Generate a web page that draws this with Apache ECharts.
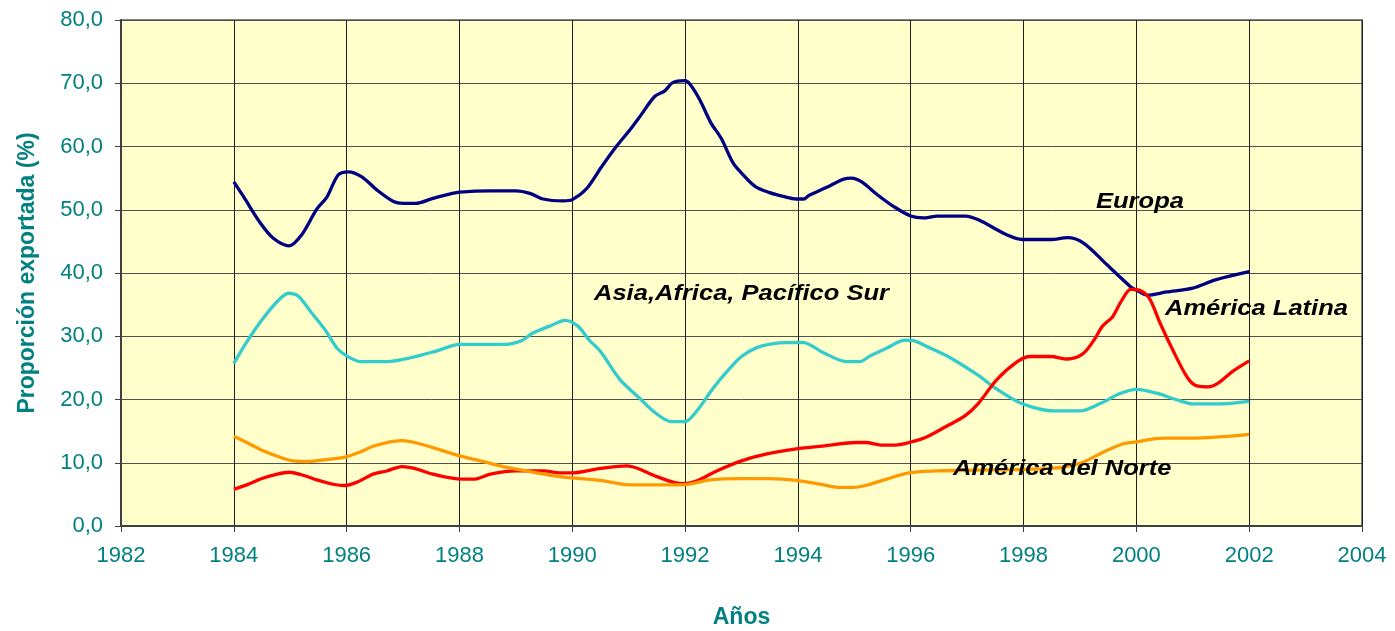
<!DOCTYPE html>
<html>
<head>
<meta charset="utf-8">
<script src="https://cdn.jsdelivr.net/npm/echarts@6/dist/echarts.min.js"></script>
<style>
  html, body { margin: 0; padding: 0; background: #fff; }
  #chart { width: 1395px; height: 631px; }
</style>
</head>
<body>
<div id="chart"></div>
<script>
// datos: [año, proporción exportada %]
var europa = [
  [1984, 54.4], [1984.17, 52.1], [1984.47, 47.9], [1984.7, 45.5], [1984.98, 44.3], [1985.2, 46.0],
  [1985.47, 50.1], [1985.65, 52.0], [1985.85, 55.5], [1986.03, 56.0], [1986.27, 55.2], [1986.54, 53.1],
  [1986.83, 51.3], [1987.0, 51.0], [1987.22, 51.0], [1987.53, 51.8], [1987.84, 52.5], [1988.0, 52.8],
  [1988.55, 53.0], [1989.0, 53.0], [1989.25, 52.6], [1989.48, 51.7], [1989.84, 51.4], [1990.0, 51.6],
  [1990.26, 53.4], [1990.52, 56.8], [1990.78, 60.0], [1991.02, 62.6], [1991.22, 65.0], [1991.46, 67.9],
  [1991.64, 68.8], [1991.78, 70.1], [1992.0, 70.4], [1992.1, 69.7], [1992.26, 67.4], [1992.46, 63.7],
  [1992.64, 61.3], [1992.85, 57.4], [1993.0, 55.8], [1993.24, 53.7], [1993.5, 52.7], [1993.74, 52.1],
  [1993.97, 51.7], [1994.1, 51.7], [1994.2, 52.3], [1994.5, 53.5], [1994.8, 54.8], [1994.95, 55.0],
  [1995.13, 54.4], [1995.42, 52.3], [1995.7, 50.5], [1996.0, 49.0], [1996.22, 48.7], [1996.47, 49.0],
  [1996.97, 49.0], [1997.2, 48.4], [1997.71, 46.0], [1997.98, 45.3], [1998.48, 45.3], [1998.78, 45.6],
  [1999.07, 44.7], [1999.48, 41.3], [1999.9, 37.8], [2000.0, 37.3], [2000.2, 36.5], [2000.53, 37.0],
  [2001.0, 37.6], [2001.4, 38.9], [2002.0, 40.2]
];
var asiaAfrica = [
  [1984, 25.7], [1984.23, 29.1], [1984.5, 32.6], [1984.77, 35.5], [1984.97, 36.8], [1985.15, 36.3],
  [1985.36, 33.9], [1985.62, 31.0], [1985.83, 28.1], [1986.0, 26.9], [1986.24, 26.0], [1986.71, 26.0],
  [1987.18, 26.7], [1987.6, 27.7], [1988.0, 28.7], [1988.77, 28.7], [1989.1, 29.3], [1989.3, 30.5],
  [1989.6, 31.6], [1989.87, 32.5], [1990.1, 31.6], [1990.3, 29.4], [1990.5, 27.6], [1990.85, 23.1],
  [1991.17, 20.4], [1991.47, 17.9], [1991.76, 16.5], [1992.0, 16.5], [1992.2, 18.1], [1992.5, 21.8],
  [1992.74, 24.4], [1993.0, 26.8], [1993.27, 28.2], [1993.54, 28.8], [1993.8, 29.0], [1994.1, 29.0],
  [1994.45, 27.4], [1994.86, 26.0], [1995.1, 26.0], [1995.28, 26.9], [1995.57, 28.1], [1995.9, 29.4],
  [1996.05, 29.3], [1996.35, 28.1], [1996.7, 26.6], [1997.2, 23.8], [1997.5, 21.8], [1997.89, 19.7],
  [1998.24, 18.6], [1998.54, 18.2], [1999.0, 18.2], [1999.37, 19.4], [1999.7, 20.9], [2000.0, 21.6],
  [2000.36, 21.0], [2000.7, 20.0], [2001.0, 19.3], [2001.47, 19.3], [2002.0, 19.7]
];
var americaLatina = [
  [1984, 5.8], [1984.23, 6.5], [1984.5, 7.5], [1984.77, 8.2], [1984.98, 8.5], [1985.2, 8.1],
  [1985.47, 7.3], [1985.76, 6.6], [1985.97, 6.4], [1986.2, 7.0], [1986.47, 8.2], [1986.71, 8.7],
  [1986.98, 9.4], [1987.2, 9.1], [1987.53, 8.2], [1987.84, 7.6], [1988.05, 7.4], [1988.25, 7.4],
  [1988.55, 8.2], [1989.0, 8.7], [1989.5, 8.7], [1989.77, 8.4], [1990.0, 8.4], [1990.5, 9.1],
  [1990.97, 9.5], [1991.5, 7.8], [1991.8, 6.9], [1992.0, 6.7], [1992.2, 7.1], [1992.56, 8.7],
  [1993.0, 10.3], [1993.45, 11.4], [1993.97, 12.2], [1994.5, 12.7], [1995.03, 13.2], [1995.2, 13.2],
  [1995.5, 12.8], [1995.73, 12.8], [1995.97, 13.2], [1996.26, 14.0], [1996.62, 15.7], [1996.96, 17.4],
  [1997.2, 19.4], [1997.53, 23.2], [1997.89, 26.0], [1998.12, 26.8], [1998.48, 26.8], [1998.78, 26.4],
  [1999.05, 27.2], [1999.25, 29.4], [1999.4, 31.6], [1999.58, 33.1], [1999.73, 35.5], [1999.9, 37.4],
  [2000.05, 37.3], [2000.23, 36.0], [2000.41, 32.3], [2000.62, 28.3], [2000.91, 23.4], [2001.09, 22.1],
  [2001.27, 22.0], [2001.45, 22.6], [2001.7, 24.4], [2002.0, 26.1]
];
var americaNorte = [
  [1984, 14.2], [1984.23, 13.2], [1984.52, 11.9], [1984.81, 10.9], [1985.05, 10.3], [1985.32, 10.2],
  [1985.64, 10.5], [1985.97, 10.9], [1986.24, 11.7], [1986.47, 12.6], [1986.71, 13.2], [1986.98, 13.5],
  [1987.2, 13.2], [1987.6, 12.2], [1988.0, 11.1], [1988.37, 10.3], [1988.77, 9.4], [1989.25, 8.6],
  [1989.78, 7.8], [1990.5, 7.2], [1991.02, 6.5], [1991.97, 6.5], [1992.44, 7.3], [1992.97, 7.5],
  [1993.5, 7.5], [1993.97, 7.2], [1994.45, 6.5], [1994.75, 6.1], [1994.98, 6.1], [1995.2, 6.4],
  [1995.57, 7.4], [1995.97, 8.4], [1996.45, 8.7], [1996.97, 8.8], [1998.48, 9.1], [1999.0, 9.9],
  [1999.42, 11.7], [1999.77, 13.0], [2000.0, 13.3], [2000.47, 13.9], [2001.0, 13.9], [2002.0, 14.5]
];

var nombres = ['Europa', 'Asia,Africa, Pacífico Sur', 'América Latina', 'América del Norte'];
var colores = ['#000080', '#33CCCC', '#FF0000', '#FF9900'];

var fuente = 'Liberation Sans, Arial, sans-serif';
var teal = '#008080';

var chart = echarts.init(document.getElementById('chart'));

function linea(nombre, datos, color) {
    return {
        name: nombre,
        type: 'line',
        data: datos,
        smooth: 0.3,
        showSymbol: false,
        lineStyle: { color: color, width: 3.3 },
        itemStyle: { color: color }
    };
}

// etiquetas dentro del area del grafico (x = borde izquierdo, y = centro)
function etiqueta(texto, x, y) {
    return {
        type: 'text',
        x: x,
        y: y,
        scaleX: 1.16,
        z: 100,
        style: {
            text: texto,
            fill: '#000',
            align: 'left',
            verticalAlign: 'middle',
            font: 'italic bold 22px ' + fuente
        }
    };
}

var option = {
    animation: false,
    backgroundColor: '#fff',
    grid: {
        left: 121, right: 33, top: 20, bottom: 105,
        outerBoundsMode: 'none',
        containLabel: false,
        show: true,
        backgroundColor: '#FFFFCC',
        borderColor: '#808080',
        borderWidth: 2
    },
    xAxis: {
        type: 'value',
        min: 1982, max: 2004, interval: 2,
        name: 'Años',
        nameLocation: 'middle',
        nameGap: 80,
        nameTextStyle: { color: teal, fontWeight: 'bold', fontSize: 23, fontFamily: fuente },
        axisLine: { lineStyle: { color: '#404040', width: 2 } },
        axisTick: { show: true, length: 6, lineStyle: { color: '#404040' } },
        axisLabel: {
            color: teal, fontSize: 22, fontFamily: fuente, margin: 19,
            formatter: function (v) { return String(v); }
        },
        splitLine: { show: true, lineStyle: { color: '#202020', width: 1 } }
    },
    yAxis: {
        type: 'value',
        min: 0, max: 80, interval: 10,
        name: 'Proporción exportada (%)',
        nameLocation: 'middle',
        nameGap: 82,
        nameTextStyle: { color: teal, fontWeight: 'bold', fontSize: 23, fontFamily: fuente },
        axisLine: { show: true, lineStyle: { color: '#404040', width: 2 } },
        axisTick: { show: true, length: 6, lineStyle: { color: '#404040' } },
        axisLabel: {
            color: teal, fontSize: 22, fontFamily: fuente, margin: 18,
            formatter: function (v) { return v.toFixed(1).replace('.', ','); }
        },
        splitLine: { show: true, lineStyle: { color: '#505050', width: 1 } }
    },
    series: [
        linea(nombres[0], europa, colores[0]),
        linea(nombres[1], asiaAfrica, colores[1]),
        linea(nombres[2], americaLatina, colores[2]),
        linea(nombres[3], americaNorte, colores[3])
    ],
    graphic: [
        etiqueta(nombres[0], 1096, 202),
        etiqueta(nombres[1], 594, 294),
        etiqueta(nombres[2], 1165, 309),
        etiqueta(nombres[3], 953, 469)
    ]
};

chart.setOption(option);
</script>
</body>
</html>
